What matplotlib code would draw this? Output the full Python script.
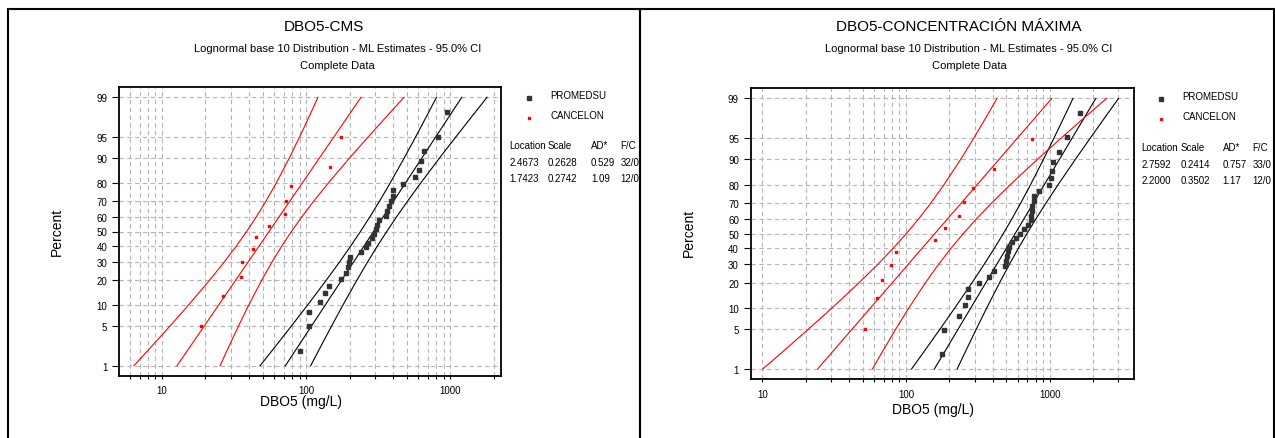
import matplotlib
matplotlib.use("Agg")
import numpy as np
import matplotlib.pyplot as plt
from matplotlib.patches import Rectangle
from matplotlib.lines import Line2D
from matplotlib.ticker import FixedLocator, NullFormatter
from statistics import NormalDist

plt.rcParams['font.family'] = ['Liberation Sans', 'DejaVu Sans']

# ---- data ----
titles = ['DBO5-CMS', 'DBO5-CONCENTRACIÓN MÁXIMA']
series_names = ['PROMEDSU', 'CANCELON']

# fitted parameters (log10 location, scale) and sample sizes from the tables
cms_loc = [2.4673, 1.7423]
cms_scale = [0.2628, 0.2742]
cms_n = [32, 12]
cms_ad = ['0.529', '1.09']
cms_fc = ['32/0', '12/0']

max_loc = [2.7592, 2.2000]
max_scale = [0.2414, 0.3502]
max_n = [33, 12]
max_ad = ['0.757', '1.17']
max_fc = ['33/0', '12/0']

# observations (mg/L) and their plotted percents
cms_prom_x = [91, 104, 105, 125, 134, 144, 173, 189, 196, 199, 200, 239, 260, 270, 288, 296,
              305, 312, 318, 357, 366, 378, 388, 399, 401, 468, 572, 603, 623, 658, 818, 948]
cms_prom_p = [1.9, 5.0, 8.1, 11.2, 14.3, 17.4, 20.5, 23.6, 26.7, 29.8, 33.0, 36.0, 39.1, 42.2, 45.3, 48.4,
              51.6, 54.7, 57.8, 60.9, 64.0, 67.0, 70.2, 73.3, 76.4, 79.5, 82.6, 85.7, 88.8, 91.9, 95.0, 98.1]
cms_canc_x = [18.6, 26.5, 35.5, 35.8, 43.1, 45.1, 54.8, 71.2, 71.9, 78.8, 146, 173]

max_prom_x = [178, 185, 234, 259, 272, 272, 324, 376, 408, 489, 497, 502, 512, 524, 545, 585, 620,
              660, 706, 738, 745, 753, 757, 774, 778, 847, 989, 1021, 1042, 1049, 1155, 1319, 1625]
max_prom_p = [1.9, 4.9, 7.9, 10.9, 13.9, 16.9, 19.9, 22.9, 25.9, 28.9, 32.0, 35.0, 38.0, 41.0, 44.0, 47.0, 50.0,
              53.0, 56.0, 59.0, 62.0, 65.0, 68.0, 71.1, 74.1, 77.1, 80.1, 83.1, 86.1, 89.1, 92.1, 95.1, 98.1]
max_canc_x = [51.9, 62.5, 68.4, 79.0, 84.8, 158, 188, 235, 254, 292, 408, 757]

canc_p = [5.1, 13.3, 21.4, 29.6, 37.8, 45.9, 54.1, 62.2, 70.4, 78.6, 86.7, 94.9]

y_ticks = [1, 5, 10, 20, 30, 40, 50, 60, 70, 80, 90, 95, 99]
ci_pct = [1, 2, 5, 10, 20, 30, 40, 50, 60, 70, 80, 90, 95, 98, 99]

nd = NormalDist()
_inv = np.vectorize(nd.inv_cdf, otypes=[float])
_cdf = np.vectorize(nd.cdf, otypes=[float])


def p_to_z(p):
    p = np.clip(np.asarray(p, dtype=float), 1e-6, 100 - 1e-6)
    return _inv(p / 100.0)


def z_to_p(z):
    return _cdf(np.asarray(z, dtype=float)) * 100.0


W, H = 1275, 439


def fx(x):
    return x / W


def fy(y):
    return 1 - y / H


fig = plt.figure(figsize=(W / 100, H / 100), dpi=100)

panels = [
    dict(box=(7.5, 640), ax=(119.2, 88.3, 501.2, 376.7), xlim=(5.05, 2250),
         minor=[6, 7, 8, 9] + [20, 30, 40, 50, 60, 70, 80, 90] + [200, 300, 400, 500, 600, 700, 800, 900] + [2000],
         title=(324, 27), sub=(337.5, 49), comp=(337.5, 66), xlab=(301, 402), ylab=(57, 232),
         mark_x=528.6, text_x=550.2, leg_y=[96, 116], cols=[509.5, 548, 591, 620.4], rows=[146, 162.5, 179],
         loc=cms_loc, scale=cms_scale, n=cms_n, ad=cms_ad, fc=cms_fc,
         prom=(cms_prom_x, cms_prom_p), canc=(cms_canc_x, canc_p)),
    dict(box=(640, 1273.5), ax=(750.7, 89.3, 1133.5, 380), xlim=(8.3, 3830),
         minor=[20, 30, 40, 50, 60, 70, 80, 90] + [200, 300, 400, 500, 600, 700, 800, 900] + [2000, 3000],
         title=(959, 27), sub=(969, 49), comp=(969, 66), xlab=(933, 410), ylab=(688.7, 233),
         mark_x=1161, text_x=1182.2, leg_y=[97, 117], cols=[1141.6, 1180.5, 1222.7, 1252.3], rows=[148, 164.5, 181.5],
         loc=max_loc, scale=max_scale, n=max_n, ad=max_ad, fc=max_fc,
         prom=(max_prom_x, max_prom_p), canc=(max_canc_x, canc_p)),
]

colors = ['#000000', '#ff0000']
mcolors = ['#333333', '#ff0000']
msizes = [3.2, 2.0]

for k, pn in enumerate(panels):
    # panel border
    x0, x1 = pn['box']
    fig.add_artist(Rectangle((fx(x0), -0.05), fx(x1) - fx(x0), fy(10) + 0.05,
                             transform=fig.transFigure, fill=False, ec='black', lw=1.5))

    l, t, r, b = pn['ax']
    ax = fig.add_axes([fx(l), fy(b), (r - l) / W, (b - t) / H])
    ax.set_xscale('log')
    ax.set_yscale('function', functions=(p_to_z, z_to_p))
    ax.set_xlim(*pn['xlim'])
    ax.set_ylim(z_to_p(-2.5), z_to_p(2.5))

    # fitted lines and 95% CI
    zz = p_to_z(ci_pct)
    for i in range(2):
        mu, s, n = pn['loc'][i], pn['scale'][i], pn['n'][i]
        center = mu + s * zz
        se = s * np.sqrt(1.0 / n + zz ** 2 / (2.0 * n))
        for curve in (center - 1.96 * se, center, center + 1.96 * se):
            ax.plot(10 ** curve, ci_pct, color=colors[i], lw=0.8, zorder=3)

    px, pp = pn['prom']
    ax.plot(px, pp, ls='none', marker='s', ms=msizes[0], color=mcolors[0], mec=mcolors[0], zorder=4)
    cx, cp = pn['canc']
    ax.plot(cx, cp, ls='none', marker='s', ms=msizes[1], color=mcolors[1], mec=mcolors[1], zorder=4)

    ax.set_yticks(y_ticks)
    ax.set_yticklabels([str(v) for v in y_ticks])
    ax.yaxis.set_minor_locator(FixedLocator([]))
    ax.xaxis.set_major_locator(FixedLocator([10, 100, 1000]))
    ax.set_xticklabels(['10', '100', '1000'])
    ax.xaxis.set_minor_locator(FixedLocator(pn['minor']))
    ax.xaxis.set_minor_formatter(NullFormatter())

    ax.tick_params(axis='y', which='major', length=5, width=0.8, pad=3.5, labelsize=7, direction='out')
    ax.tick_params(axis='x', which='both', length=2.5, width=0.8, pad=4.5, labelsize=7, direction='out')

    ax.grid(True, axis='x', which='both', color='#b4b4b4', lw=0.8, ls=(0, (4, 3)), zorder=0)
    ax.grid(True, axis='y', which='major', color='#b4b4b4', lw=0.8, ls=(0, (4, 3)), zorder=0)
    ax.set_axisbelow(True)
    for sp in ax.spines.values():
        sp.set_linewidth(1.3)
        sp.set_color('black')

    ax.set_xlabel('DBO5 (mg/L)', fontsize=10)
    ax.xaxis.set_label_coords(fx(pn['xlab'][0]), fy(pn['xlab'][1]), transform=fig.transFigure)
    ax.xaxis.label.set_va('center')
    ax.set_ylabel('Percent', fontsize=10)
    ax.yaxis.set_label_coords(fx(pn['ylab'][0]), fy(pn['ylab'][1]), transform=fig.transFigure)
    ax.yaxis.label.set_va('center')

    # titles
    fig.text(fx(pn['title'][0]), fy(pn['title'][1]), titles[k], ha='center', va='center', fontsize=11)
    fig.text(fx(pn['sub'][0]), fy(pn['sub'][1]),
             'Lognormal base 10 Distribution - ML Estimates - 95.0% CI', ha='center', va='center', fontsize=8)
    fig.text(fx(pn['comp'][0]), fy(pn['comp'][1]), 'Complete Data', ha='center', va='center', fontsize=8)

    # legend
    for i in range(2):
        fig.add_artist(Line2D([fx(pn['mark_x'])], [fy(pn['leg_y'][i] + 2.5)], transform=fig.transFigure,
                              ls='none', marker='s', ms=msizes[i], color=mcolors[i], mec=mcolors[i]))
        fig.text(fx(pn['text_x']), fy(pn['leg_y'][i]), series_names[i], ha='left', va='center', fontsize=7)

    # parameter table
    header = ['Location', 'Scale', 'AD*', 'F/C']
    cols, rows = pn['cols'], pn['rows']
    for j, h in enumerate(header):
        fig.text(fx(cols[j]), fy(rows[0]), h, ha='left', va='center', fontsize=7)
    for i in range(2):
        vals = ['%.4f' % pn['loc'][i], '%.4f' % pn['scale'][i], pn['ad'][i], pn['fc'][i]]
        for j, v in enumerate(vals):
            fig.text(fx(cols[j]), fy(rows[i + 1]), v, ha='left', va='center', fontsize=7)

fig.savefig('out.png', dpi=100)
